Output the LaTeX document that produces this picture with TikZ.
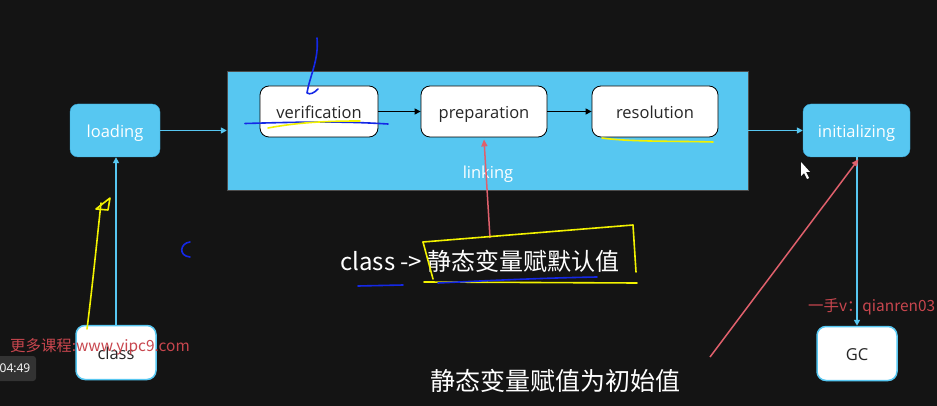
\documentclass[tikz,border=0pt]{standalone}
\usepackage{fontspec}
\setmainfont{Open Sans}
\newfontfamily\cjk{Noto Sans CJK SC}
\usetikzlibrary{arrows.meta,calc}
\definecolor{bg}{HTML}{141414}
\definecolor{lblue}{HTML}{57C7F1}
\definecolor{bord}{HTML}{3AA8D8}
\definecolor{pred}{HTML}{E0606C}
\definecolor{wmred}{HTML}{C8464E}
\definecolor{hblue}{HTML}{1428E6}
\definecolor{hyel}{HTML}{F2F200}
\tikzset{
  lbl/.style={font=\fontsize{16.5}{18}\selectfont, text height=13.5pt, text depth=0pt},
  bluebox/.style={lbl, draw=bord, fill=lblue, rounded corners=8pt, text=white, minimum width=90pt, minimum height=53pt, inner sep=0pt},
  whitebox/.style={lbl, draw=black, line width=0.8pt, fill=white, rounded corners=9pt, text=black!85, minimum width=118pt, minimum height=51pt, inner sep=0pt},
  endbox/.style={lbl, draw=lblue, line width=1.5pt, fill=white, rounded corners=9pt, text=black!85, minimum width=80pt, minimum height=54pt, inner sep=0pt},
  linkbox/.style={draw=black!70, fill=lblue, minimum width=521pt, minimum height=119pt, inner sep=0pt},
  bluearrow/.style={draw=lblue, line width=1.6pt, -{Triangle[length=6pt,width=6pt]}},
  blackarrow/.style={draw=black, line width=1.1pt, -{Triangle[length=6pt,width=6pt]}},
  redarrow/.style={draw=pred, line width=1.5pt, -{Triangle[length=7pt,width=6pt]}},
  hbl/.style={draw=hblue, line width=1.6pt, line cap=round, line join=round},
  hyl/.style={draw=hyel, line width=1.6pt, line cap=round, line join=round},
  wm/.style={text=wmred, font=\cjk\fontsize{15.4}{17}\selectfont, inner sep=0pt, anchor=west}
}
\begin{document}
\begin{tikzpicture}[x=1pt,y=-1pt]
\fill[bg] (0,0) rectangle (937,406);
\useasboundingbox (0,0) rectangle (937,406);

% linking group
\node[linkbox] (linking) at (487.5,130.5) {};
\node[lbl, text=white, inner sep=0pt] (linklabel) at (488,172) {linking};

\node[whitebox] (verification) at (319,111.5) {verification};
\node[whitebox, minimum width=126pt] (preparation) at (484,111.5) {preparation};
\node[whitebox, minimum width=126pt] (resolution) at (655,111.5) {resolution};

\node[bluebox] (loading) at (115,130.5) {loading};
\node[bluebox, minimum width=107pt] (initializing) at (856.5,130.5) {initializing};
\node[endbox] (class) at (116,352.5) {class};
\node[endbox] (GC) at (857,353.5) {GC};

\draw[blackarrow] (verification) -- (preparation);
\draw[blackarrow] (preparation) -- (resolution);
\draw[bluearrow] (loading) -- (linking);
\draw[bluearrow] (linking) -- (initializing);
\draw[bluearrow] (class.north) -- (class.north |- loading.south);
\draw[bluearrow] (GC.north |- initializing.south) -- (GC.north);

% texts
\node[text=white, font=\cjk\fontsize{24}{26}\selectfont, inner sep=0pt, anchor=west] (t1) at (340,261) {class -> 静态变量赋默认值};
\node[text=white, font=\cjk\fontsize{25}{28}\selectfont, inner sep=0pt, anchor=west] (t2) at (430,381) {静态变量赋值为初始值};

% red arrows
\coordinate (r1) at (490,238);
\coordinate (r2) at (710,357);
\draw[redarrow] (r1) -- ($(preparation.south)+(0,2)$);
\draw[redarrow] (r2) -- ($(initializing.south)+(2,2)$);

% watermarks
\node[wm] (wm1) at (10,347) {更多课程:www.yipc9.com};
\node[wm] (wm2) at (808,307) {一手v：qianren03};
\fill[black!80, rounded corners=3pt] (-5,356) rectangle (36,381);
\node[text=white, font=\fontsize{12}{14}\selectfont, inner sep=0pt] (time) at (15,368.5) {04:49};

% hand annotations
\draw[hbl] (317,38) .. controls (319,60) and (310,75) .. (307,93) .. controls (310,95) and (314,93) .. (318,89);
\draw[hbl] (245,123.5) .. controls (300,122) and (340,121) .. (388,124);
\draw[hyl] (268,128) .. controls (300,122) and (330,121) .. (360,121);
\draw[hyl] (602,138) .. controls (630,142) and (680,141) .. (713,142);
\draw[hyl] (87,329) .. controls (92,290) and (97,240) .. (101,203);
\draw[hyl] (96,209) -- (110,198) -- (108,210) -- cycle;
\draw[hbl] (190,242) .. controls (180,243) and (178,256) .. (190,257);
\draw[hyl] (423,242) -- (633,225) -- (636,272);
\draw[hyl] (423,242) -- (433,279);
\draw[hyl] (424,282) -- (637,283);
\draw[hbl] (358,286) -- (403,285);
\draw[hbl] (438,283) .. controls (480,281) and (540,278) .. (597,277);
% cursor
\fill[white] (801,162) -- (801,176) -- (804,173) -- (807,179) -- (809,178) -- (806,172) -- (810,172) -- cycle;
\end{tikzpicture}
\end{document}
